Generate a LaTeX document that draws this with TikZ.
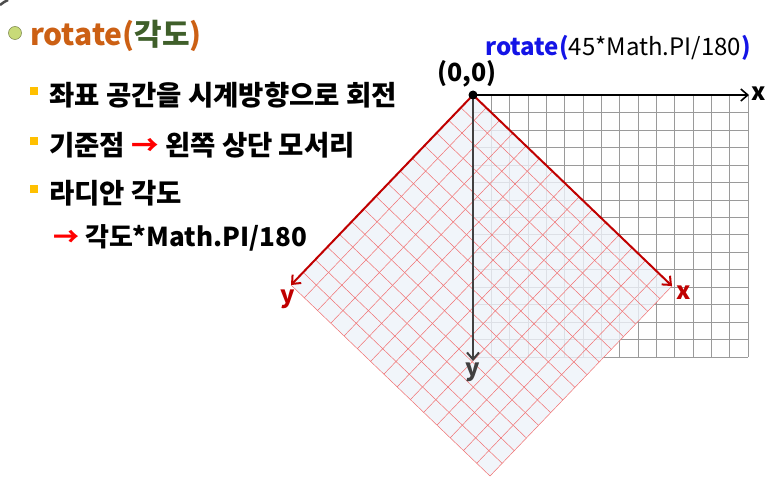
\documentclass[tikz,border=0pt]{standalone}
\usepackage{fontspec}
\setmainfont{Noto Sans CJK KR}
\usetikzlibrary{arrows.meta,positioning,calc}
\definecolor{titleorange}{HTML}{CC6014}
\definecolor{titlegreen}{HTML}{3F5F2A}
\definecolor{bulletgreen}{HTML}{C8DA78}
\definecolor{bulletyellow}{HTML}{FFC000}
\definecolor{codeblue}{HTML}{1414E6}
\definecolor{axisred}{HTML}{C00000}
\definecolor{gridred}{HTML}{F07070}
\definecolor{gridgray}{HTML}{9A9A9A}
\definecolor{axisgray}{HTML}{404040}
\definecolor{diamondfill}{HTML}{EEF2F9}

\begin{document}
\begin{tikzpicture}[
  x=1pt, y=-1pt,
  titletext/.style={anchor=west, inner sep=0pt, font=\bfseries\fontsize{30}{34}\selectfont},
  itemtext/.style={anchor=west, inner sep=0pt, font=\bfseries\fontsize{27.5}{31}\selectfont},
  sqbullet/.style={fill=bulletyellow, minimum size=7.5pt, inner sep=0pt},
  axislabel/.style={inner sep=0pt, font=\bfseries\fontsize{24}{28}\selectfont},
  gridline/.style={draw=gridgray, line width=0.5pt},
  redgrid/.style={draw=gridred, line width=0.5pt},
  redaxis/.style={draw=axisred, line width=2pt, -{Straight Barb[length=7pt,width=12pt]}},
  blackaxis/.style={draw=black, line width=1.6pt, -{Straight Barb[length=7pt,width=12pt]}},
  grayaxis/.style={draw=axisgray, line width=2pt, -{Straight Barb[length=7pt,width=12pt]}}
]
\useasboundingbox (0,0) rectangle (778,489);

% slide corner
\draw[line width=2.5pt, black!70] (0,5) .. controls (3,3) and (5,1) .. (8,0);

% title and bullets
\node[circle, fill=bulletgreen, draw=bulletgreen!60!black, line width=0.5pt,
  minimum size=13pt, inner sep=0pt] (tdot) at (15,33) {};
\node[titletext] (title) at (30,36)
  {\textcolor{titleorange}{rotate(}\textcolor{titlegreen}{각도}\textcolor{titleorange}{)}};

\node[sqbullet] (b1) at (34,91) {};
\node[itemtext] (t1) at (49,95) {좌표 공간을 시계방향으로 회전};
\node[sqbullet] (b2) at (34,141) {};
\node[itemtext] (t2) at (49,145) {기준점 \textcolor{red}{→} 왼쪽 상단 모서리};
\node[sqbullet] (b3) at (34,189) {};
\node[itemtext] (t3) at (49,193) {라디안 각도};
\node[itemtext, font=\bfseries\fontsize{26}{30}\selectfont] (t4) at (53,238)
  {\textcolor{red}{→} 각도*Math.PI/180};

% unrotated grid
\coordinate (o) at (473,95);
\coordinate (gx) at (748,95);
\coordinate (gy) at (473,357);
\coordinate (gxy) at (748,357);
\foreach \i in {0,...,15} {
  \draw[gridline] ($(o)!\i/15!(gx)$) -- ($(gy)!\i/15!(gxy)$);
  \draw[gridline] ($(o)!\i/15!(gy)$) -- ($(gx)!\i/15!(gxy)$);
}

% rotated grid
\coordinate (rx) at (672,286);
\coordinate (ry) at (291,285);
\coordinate (rb) at ($(rx)+(ry)-(o)$);
\fill[diamondfill, opacity=0.8] (o) -- (rx) -- (rb) -- (ry) -- cycle;
\foreach \i in {1,...,15} {
  \draw[redgrid] ($(o)!\i/15!(rx)$) -- ($(ry)!\i/15!(rb)$);
  \draw[redgrid] ($(o)!\i/15!(ry)$) -- ($(rx)!\i/15!(rb)$);
}

% axes
\coordinate (xend) at (749,95);
\coordinate (yend) at (473,361);
\draw[grayaxis] (o) -- (yend);
\draw[blackaxis] (o) -- (xend);
\draw[redaxis] (o) -- (rx);
\draw[redaxis] (o) -- (ry);
\node[circle, fill=black, minimum size=9pt, inner sep=0pt] (odot) at (o) {};

\node[axislabel] (xlab) at (759,94) {x};
\node[axislabel, text=axisgray] (ylab) at (473,372) {y};
\node[axislabel, text=axisred] (rxlab) at (684,293) {x};
\node[axislabel, text=axisred] (rylab) at (288,299) {y};
\node[axislabel, font=\bfseries\fontsize{25}{29}\selectfont] (olab) at (467,74) {(0,0)};
\node[inner sep=0pt, font=\fontsize{24}{28}\selectfont] (rotlab) at (618,48)
  {\textcolor{codeblue}{\bfseries rotate(}45*Math.PI/180\textcolor{codeblue}{\bfseries )}};
\end{tikzpicture}
\end{document}
